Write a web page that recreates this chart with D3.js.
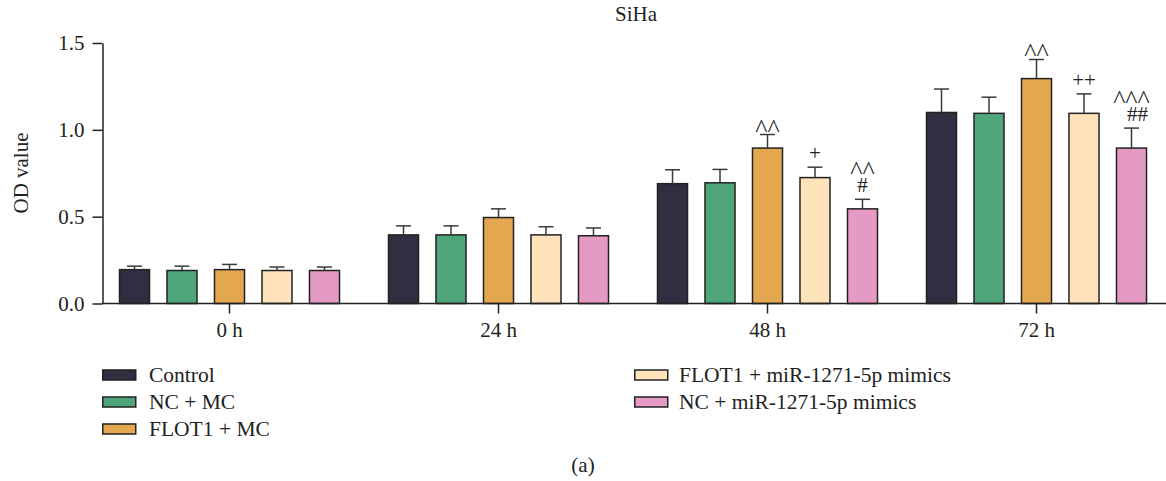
<!DOCTYPE html>
<html>
<head>
<meta charset="utf-8">
<script src="https://cdn.jsdelivr.net/npm/d3@7"></script>
<style>
    body { margin: 0; background: #fff; }
    svg { display: block; font-family: "Liberation Serif", "DejaVu Serif", serif; }
</style>
</head>
<body>
<div id="chart"></div>
<script>
var groups = ['0 h', '24 h', '48 h', '72 h']
var series = ['Control', 'NC + MC', 'FLOT1 + MC', 'FLOT1 + miR-1271-5p mimics', 'NC + miR-1271-5p mimics']
var colors = ['#302e40', '#4fa67a', '#e3a84f', '#fee3bb', '#e49ac3']
var yTicks = [0, 0.5, 1.0, 1.5]

// mean OD per series, one value per time point
var control = [0.195, 0.395, 0.69, 1.10]
var ncMc = [0.19, 0.395, 0.695, 1.095]
var flot1Mc = [0.195, 0.495, 0.895, 1.295]
var flot1Mimics = [0.19, 0.395, 0.725, 1.095]
var ncMimics = [0.19, 0.39, 0.545, 0.895]

// error bar (upper only)
var controlErr = [0.02, 0.052, 0.08, 0.135]
var ncMcErr = [0.025, 0.052, 0.077, 0.093]
var flot1McErr = [0.03, 0.05, 0.078, 0.11]
var flot1MimicsErr = [0.02, 0.047, 0.06, 0.112]
var ncMimicsErr = [0.02, 0.045, 0.055, 0.115]

// significance marks, lines from top to bottom
var marks = [
    { group: '48 h', series: 'FLOT1 + MC', lines: ['^^'] },
    { group: '48 h', series: 'FLOT1 + miR-1271-5p mimics', lines: ['+'] },
    { group: '48 h', series: 'NC + miR-1271-5p mimics', lines: ['^^', '#'] },
    { group: '72 h', series: 'FLOT1 + MC', lines: ['^^'] },
    { group: '72 h', series: 'FLOT1 + miR-1271-5p mimics', lines: ['++'] },
    { group: '72 h', series: 'NC + miR-1271-5p mimics', lines: ['^^^', '##'] }
]

var means = [control, ncMc, flot1Mc, flot1Mimics, ncMimics]
var errs = [controlErr, ncMcErr, flot1McErr, flot1MimicsErr, ncMimicsErr]

var rows = []
groups.forEach(function (g, gi) {
    series.forEach(function (s, si) {
        rows.push({ group: g, series: s, value: means[si][gi], err: errs[si][gi] })
    })
})

var width = 1166,
    height = 481,
    fontSize = 20,
    ink = '#222'

var svg = d3.select('#chart').append('svg')
    .attr('width', width)
    .attr('height', height)

var y = d3.scaleLinear()
    .domain([0, 1.5])
    .range([303.5, 43])

var x0 = d3.scaleBand()
    .domain(groups)
    .range([95, 1171])

var x1 = d3.scaleBand()
    .domain(series)
    .range([-110, 110])
    .paddingInner(0.368)

var color = d3.scaleOrdinal()
    .domain(series)
    .range(colors)

// title
svg.append('text')
    .attr('x', 636)
    .attr('y', 21)
    .attr('text-anchor', 'middle')
    .style('font-size', '21px')
    .style('fill', ink)
    .text('SiHa')

// y axis
var yAxis = svg.append('g')
    .attr('transform', 'translate(102.5,0)')
    .call(d3.axisLeft(y).tickValues(yTicks).tickFormat(d3.format('.1f')).tickSize(10).tickPadding(8).tickSizeOuter(0))
yAxis.attr('font-family', null).attr('font-size', null)
yAxis.selectAll('text').style('font-size', '21px').style('fill', ink)

svg.append('text')
    .attr('transform', 'translate(28,173) rotate(-90)')
    .attr('text-anchor', 'middle')
    .style('font-size', '21px')
    .style('fill', ink)
    .text('OD value')

// bars
var bars = svg.append('g')
    .selectAll('rect')
    .data(rows)
    .enter().append('rect')
    .attr('x', function (d) { return x0(d.group) + x0.bandwidth() / 2 + x1(d.series) })
    .attr('y', function (d) { return y(d.value) })
    .attr('width', x1.bandwidth())
    .attr('height', function (d) { return y(0) - y(d.value) })
    .style('fill', function (d) { return color(d.series) })
    .style('stroke', ink)
    .style('stroke-width', 1.5)

// error bars
var errG = svg.append('g')
    .selectAll('g')
    .data(rows)
    .enter().append('g')
    .attr('transform', function (d) {
        var cx = x0(d.group) + x0.bandwidth() / 2 + x1(d.series) + x1.bandwidth() / 2
        return 'translate(' + cx + ',0)'
    })
    .style('stroke', '#3a3a3a')
    .style('stroke-width', 1.5)

errG.append('line')
    .attr('y1', function (d) { return y(d.value) })
    .attr('y2', function (d) { return y(d.value + d.err) })

errG.append('line')
    .attr('x1', -7.5)
    .attr('x2', 7.5)
    .attr('y1', function (d) { return y(d.value + d.err) })
    .attr('y2', function (d) { return y(d.value + d.err) })

// x axis, drawn after bars so the baseline sits on top
var xAxis = svg.append('g')
    .attr('transform', 'translate(0,303.5)')
    .call(d3.axisBottom(x0).tickSize(10).tickPadding(9).tickSizeOuter(0))
xAxis.attr('font-family', null).attr('font-size', null)
xAxis.select('.domain').attr('d', 'M102,0H1166')
xAxis.selectAll('text').style('font-size', '21px').style('fill', ink)
svg.selectAll('.domain, .tick line').style('stroke', ink).style('stroke-width', 1.5)

// significance marks
marks.forEach(function (m) {
    var d = rows.find(function (r) { return r.group === m.group && r.series === m.series })
    var cx = x0(d.group) + x0.bandwidth() / 2 + x1(d.series) + x1.bandwidth() / 2
    var top = y(d.value + d.err)
    var n = m.lines.length
    var base = m.lines[n - 1].indexOf('^') === 0 ? top + 2 : top - 7
    m.lines.forEach(function (line, i) {
        var isCaret = line.indexOf('^') === 0
        svg.append('text')
            .attr('x', line === '##' ? cx + 6 : cx)
            .attr('y', base - (n - 1 - i) * 13)
            .attr('text-anchor', 'middle')
            .style('font-size', isCaret ? '26px' : '21px')
            .style('fill', ink)
            .text(line)
    })
})

// legend
var legend = svg.append('g')
    .selectAll('g')
    .data(series)
    .enter().append('g')
    .attr('transform', function (d, i) {
        var col = i < 3 ? 0 : 1
        var row = i < 3 ? i : i - 3
        return 'translate(' + (col ? 634 : 102) + ',' + (375 + row * 27) + ')'
    })

legend.append('rect')
    .attr('x', 0.75)
    .attr('y', -5)
    .attr('width', 33)
    .attr('height', 10)
    .style('fill', function (d) { return color(d) })
    .style('stroke', ink)
    .style('stroke-width', 1.5)

legend.append('text')
    .attr('x', function (d, i) { return i < 3 ? 47 : 45 })
    .attr('y', 6.5)
    .style('font-size', '21.5px')
    .style('fill', ink)
    .text(function (d) { return d })

svg.append('text')
    .attr('x', 583)
    .attr('y', 472)
    .attr('text-anchor', 'middle')
    .style('font-size', '21px')
    .style('fill', ink)
    .text('(a)')
</script>
</body>
</html>
